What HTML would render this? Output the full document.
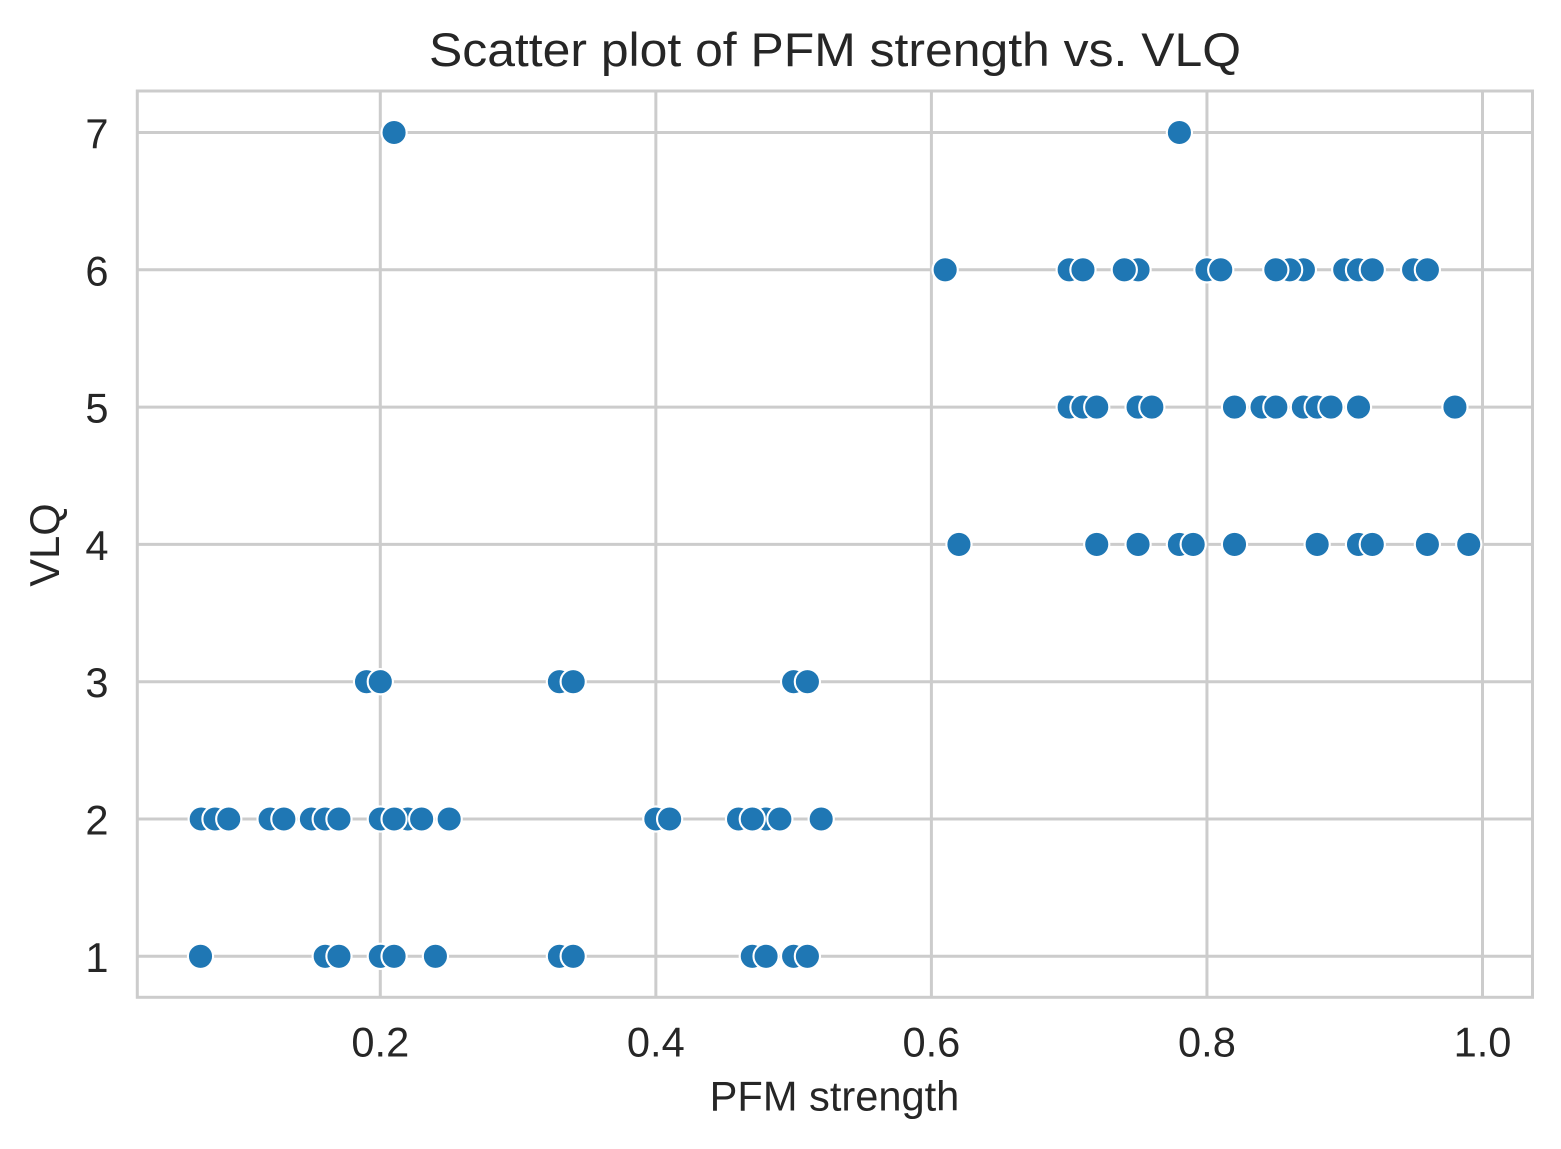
<!DOCTYPE html>
<html lang="en">
<head>
<meta charset="utf-8">
<title>Scatter plot of PFM strength vs. VLQ</title>
<style>
html,body{margin:0;padding:0;background:#fff;width:1561px;height:1149px;overflow:hidden}
svg{display:block}
text{font-family:"Liberation Sans",Arial,sans-serif;fill:#262626}
</style>
</head>
<body>
<svg id="chart" xmlns="http://www.w3.org/2000/svg" width="1561" height="1149" viewBox="0 0 1561 1149">
<rect x="0" y="0" width="1561" height="1149" fill="#ffffff"/>
<g id="grid"></g>
<rect x="137.3" y="91" width="1395.2" height="906.3" fill="none" stroke="#cccccc" stroke-width="3"/>
<g id="points"></g>
<g id="xticks"></g>
<g id="yticks"></g>
<text x="835" y="66" text-anchor="middle" font-size="47" textLength="812" lengthAdjust="spacingAndGlyphs">Scatter plot of PFM strength vs. VLQ</text>
<text x="834.5" y="1110.5" text-anchor="middle" font-size="41.6">PFM strength</text>
<text x="0" y="0" transform="translate(59,545) rotate(-90)" text-anchor="middle" font-size="41.6">VLQ</text>
</svg>
<script>
const xTickValues = [0.2, 0.4, 0.6, 0.8, 1.0];
const xTickLabels = ['0.2', '0.4', '0.6', '0.8', '1.0'];
const yTickValues = [1, 2, 3, 4, 5, 6, 7];
const yTickLabels = ['1', '2', '3', '4', '5', '6', '7'];
const strengthVlq7 = [0.21, 0.78];
const strengthVlq6 = [0.61, 0.70, 0.71, 0.75, 0.74, 0.80, 0.81, 0.87, 0.86, 0.85, 0.90, 0.91, 0.92, 0.95, 0.96];
const strengthVlq5 = [0.70, 0.71, 0.72, 0.75, 0.76, 0.82, 0.84, 0.85, 0.87, 0.88, 0.89, 0.91, 0.98];
const strengthVlq4 = [0.62, 0.72, 0.75, 0.78, 0.79, 0.82, 0.88, 0.91, 0.92, 0.96, 0.99];
const strengthVlq3 = [0.19, 0.20, 0.33, 0.34, 0.50, 0.51];
const strengthVlq2 = [0.07, 0.08, 0.09, 0.12, 0.13, 0.15, 0.16, 0.17, 0.20, 0.22, 0.21, 0.23, 0.25, 0.40, 0.41, 0.46, 0.48, 0.47, 0.49, 0.52];
const strengthVlq1 = [0.0695, 0.16, 0.17, 0.20, 0.21, 0.24, 0.33, 0.34, 0.47, 0.48, 0.50, 0.51];

const NS = 'http://www.w3.org/2000/svg';
function xScale(v) { return 380.3 + (v - 0.2) * 1377.75; }
function yScale(v) { return 956.3 - (v - 1) * 137.3; }

const gridGroup = document.getElementById('grid');
const xTickGroup = document.getElementById('xticks');
const yTickGroup = document.getElementById('yticks');
const pointGroup = document.getElementById('points');

xTickValues.forEach(function (v, i) {
  const line = document.createElementNS(NS, 'line');
  
  
  line.setAttribute('x1', xScale(v));
  line.setAttribute('x2', xScale(v));
  line.setAttribute('y1', 91);
  line.setAttribute('y2', 997.3);
  line.setAttribute('stroke', '#cccccc');
  line.setAttribute('stroke-width', 3);
  gridGroup.appendChild(line);
  const label = document.createElementNS(NS, 'text');
  
  
  label.setAttribute('x', xScale(v));
  label.setAttribute('y', 1056.5);
  label.setAttribute('text-anchor', 'middle');
  label.setAttribute('font-size', 41.6);
  label.textContent = xTickLabels[i];
  xTickGroup.appendChild(label);
});

yTickValues.forEach(function (v, i) {
  const line = document.createElementNS(NS, 'line');
  
  
  line.setAttribute('x1', 137.3);
  line.setAttribute('x2', 1532.5);
  line.setAttribute('y1', yScale(v));
  line.setAttribute('y2', yScale(v));
  line.setAttribute('stroke', '#cccccc');
  line.setAttribute('stroke-width', 3);
  gridGroup.appendChild(line);
  const label = document.createElementNS(NS, 'text');
  
  
  label.setAttribute('x', 108.5);
  label.setAttribute('y', yScale(v) + 15.5);
  label.setAttribute('text-anchor', 'end');
  label.setAttribute('font-size', 41.6);
  label.textContent = yTickLabels[i];
  yTickGroup.appendChild(label);
});

function drawSeries(values, vlq) {
  values.forEach(function (s) {
    const dot = document.createElementNS(NS, 'circle');
    
    
    dot.setAttribute('cx', xScale(s));
    dot.setAttribute('cy', yScale(vlq));
    dot.setAttribute('r', 12.6);
    dot.setAttribute('fill', '#1f77b4');
    dot.setAttribute('stroke', '#ffffff');
    dot.setAttribute('stroke-width', 2.1);
    pointGroup.appendChild(dot);
  });
}
drawSeries(strengthVlq1, 1);
drawSeries(strengthVlq2, 2);
drawSeries(strengthVlq3, 3);
drawSeries(strengthVlq4, 4);
drawSeries(strengthVlq5, 5);
drawSeries(strengthVlq6, 6);
drawSeries(strengthVlq7, 7);
</script>
</body>
</html>
